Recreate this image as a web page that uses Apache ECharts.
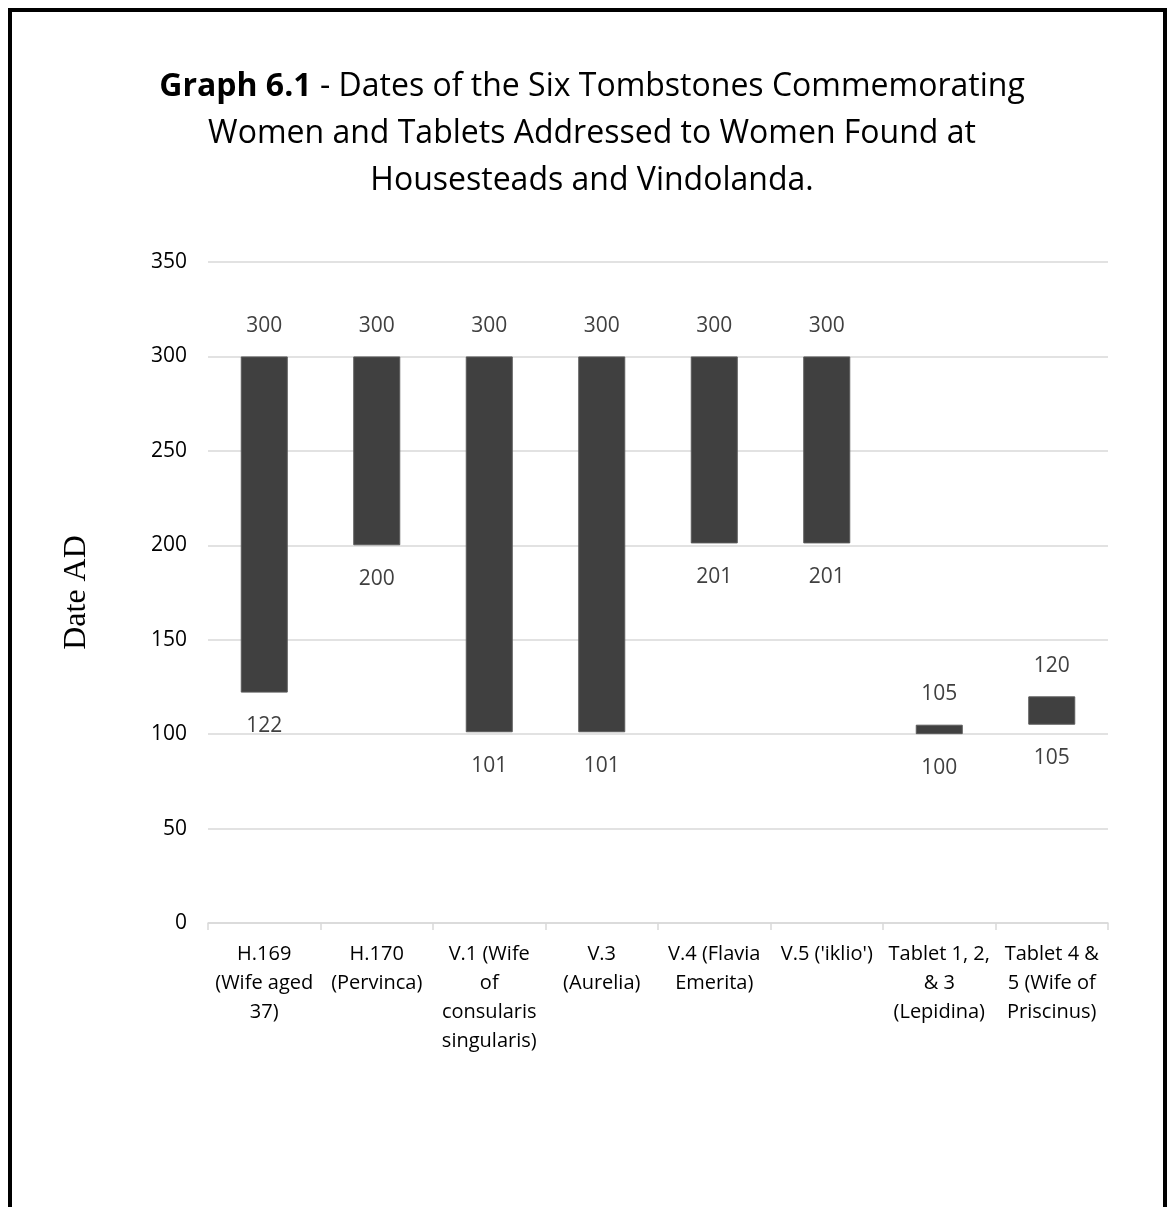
<!DOCTYPE html>
<html lang="en">
<head>
    <meta charset="UTF-8">
    <title>Graph 6.1</title>
    <script src="https://cdn.jsdelivr.net/npm/echarts@6/dist/echarts.min.js"></script>
    <style>
        html, body { margin: 0; padding: 0; background: #fff; }
        #main { width: 1167px; height: 1207px; }
    </style>
</head>
<body>
    <div id="main"></div>
<script>
    // categories (line breaks as in the original axis)
    var categories = [
        'H.169\n(Wife aged\n37)',
        'H.170\n(Pervinca)',
        'V.1 (Wife\nof\nconsularis\nsingularis)',
        'V.3\n(Aurelia)',
        'V.4 (Flavia\nEmerita)',
        "V.5 ('iklio')",
        'Tablet 1, 2,\n& 3\n(Lepidina)',
        'Tablet 4 &\n5 (Wife of\nPriscinus)'
    ];
    var startYear = [122, 200, 101, 101, 201, 201, 100, 105];
    var endYear = [300, 300, 300, 300, 300, 300, 105, 120];
    var yTicks = [0, 50, 100, 150, 200, 250, 300, 350];

    var span = endYear.map(function (v, i) { return v - startYear[i]; });

    var sans = '"Open Sans", "Noto Sans", sans-serif';
    var chart = echarts.init(document.getElementById('main'));

    chart.setOption({
        backgroundColor: '#fff',
        animation: false,
        grid: { left: 208, right: 59, top: 262, bottom: 284 },
        xAxis: {
            type: 'category',
            data: categories,
            axisLine: { lineStyle: { color: '#d9d9d9', width: 1.5 } },
            axisTick: { show: true, length: 7, lineStyle: { color: '#d9d9d9', width: 1.5 } },
            axisLabel: {
                interval: 0,
                margin: 17,
                color: '#000',
                fontFamily: sans,
                fontSize: 20,
                lineHeight: 29
            }
        },
        yAxis: {
            type: 'value',
            min: yTicks[0],
            max: yTicks[yTicks.length - 1],
            interval: 50,
            name: 'Date AD',
            nameLocation: 'middle',
            nameGap: 115,
            nameTextStyle: { fontFamily: '"Liberation Serif", serif', fontSize: 32, color: '#000' },
            axisLine: { show: false },
            axisTick: { show: false },
            axisLabel: { margin: 21, color: '#000', fontFamily: sans, fontSize: 21 },
            splitLine: { lineStyle: { color: '#d9d9d9', width: 1.5 } }
        },
        series: [
            {
                name: 'start',
                type: 'bar',
                stack: 'range',
                barWidth: 47,
                data: startYear,
                itemStyle: { color: 'rgba(0,0,0,0)' },
                label: {
                    show: true,
                    position: 'insideTop',
                    distance: 23,
                    color: '#404040',
                    fontFamily: sans,
                    fontSize: 21
                }
            },
            {
                name: 'span',
                type: 'bar',
                stack: 'range',
                barWidth: 47,
                data: span,
                itemStyle: { color: '#404040', borderColor: '#5a5a5a', borderWidth: 1 },
                label: {
                    show: true,
                    position: 'top',
                    distance: 20,
                    color: '#404040',
                    fontFamily: sans,
                    fontSize: 21,
                    formatter: function (p) { return endYear[p.dataIndex]; }
                }
            }
        ],
        graphic: [
            {
                type: 'rect',
                shape: { x: 10, y: 10, width: 1155, height: 1300 },
                style: { fill: 'none', stroke: '#000', lineWidth: 4 },
                silent: true
            },
            {
                type: 'text',
                x: 592,
                y: 63,
                style: {
                    text: '{b|Graph 6.1} - Dates of the Six Tombstones Commemorating\nWomen and Tablets Addressed to Women Found at\nHousesteads and Vindolanda.',
                    align: 'center',
                    verticalAlign: 'top',
                    fontFamily: sans,
                    fontSize: 32,
                    lineHeight: 47,
                    fill: '#000',
                    rich: {
                        b: { fontFamily: sans, fontSize: 32, fontWeight: 'bold', lineHeight: 47, fill: '#000' }
                    }
                }
            }
        ]
    });
</script>
</body>
</html>
